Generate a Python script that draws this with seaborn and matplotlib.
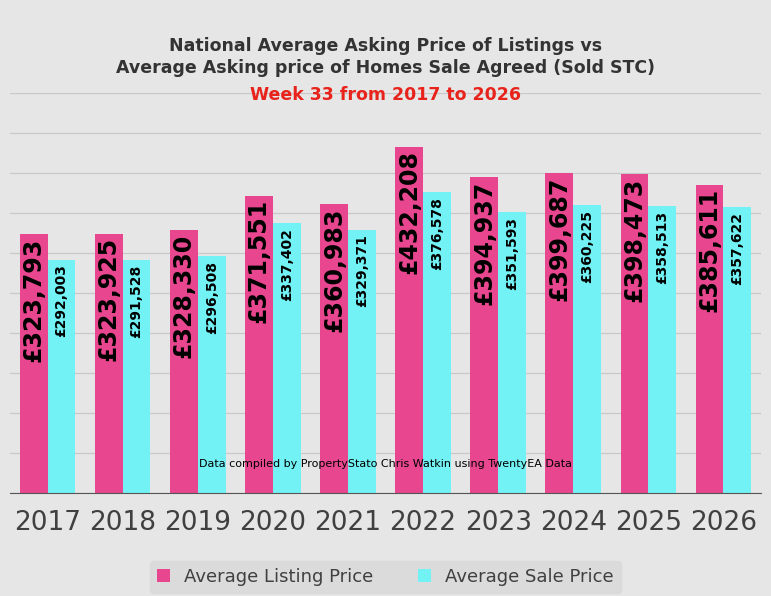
import pandas as pd
import matplotlib.pyplot as plt
import seaborn as sns

# Configuración de estilo
plt.style.use('default')

# Datos
years = ['2017', '2018', '2019', '2020', '2021', '2022', '2023', '2024', '2025', '2026']
listing = [323793, 323925, 328330, 371551, 360983, 432208, 394937, 399687, 398473, 385611]
sale = [292003, 291528, 296508, 337402, 329371, 376578, 351593, 360225, 358513, 357622]

df = pd.DataFrame({
    'Year': years * 2,
    'Price': listing + sale,
    'Type': ['Average Listing Price'] * 10 + ['Average Sale Price'] * 10,
})


def plot_listing_vs_sale(df):
    """Precio medio de anuncios vs precio medio de ventas acordadas."""
    fig = plt.figure(figsize=(7.71, 5.96), dpi=100)
    fig.patch.set_facecolor('#e6e6e6')
    ax = fig.add_axes([0.013, 0.172, 0.974, 0.672])
    ax.set_facecolor('#e6e6e6')

    sns.barplot(data=df, x='Year', y='Price', hue='Type', ax=ax,
                palette=['#e8478f', '#72f2f4'], width=0.74, saturation=1)

    ax.set_ylim(0, 500000)
    ax.set_yticks(range(0, 500001, 50000))
    ax.yaxis.grid(True, color='#c8c8c8', linewidth=0.9)
    ax.set_axisbelow(True)
    ax.tick_params(axis='y', left=False, labelleft=False)
    ax.tick_params(axis='x', length=0, labelsize=19, colors='#404040', pad=12)
    ax.set_xlabel('')
    ax.set_ylabel('')
    for side in ['top', 'right', 'left']:
        ax.spines[side].set_visible(False)
    ax.spines['bottom'].set_color('#555555')

    # Etiquetas dentro de las barras
    for i, c in enumerate(ax.containers):
        for bar in c:
            h = bar.get_height()
            x = bar.get_x() + bar.get_width() / 2
            if i == 0:
                ax.text(x, h - 4000, f"£{h:,.0f}", rotation=90, ha='center', va='top',
                        fontsize=17, fontweight='bold', color='black')
            else:
                ax.text(x, h - 6000, f"£{h:,.0f}", rotation=90, ha='center', va='top',
                        fontsize=10, fontweight='bold', color='black')

    ax.text(0.5, 0.065, 'Data compiled by PropertyStato Chris Watkin using TwentyEA Data',
            transform=ax.transAxes, ha='center', fontsize=8, color='black')

    fig.text(0.5, 0.905, 'National Average Asking Price of Listings vs\n'
             'Average Asking price of Homes Sale Agreed (Sold STC)',
             ha='center', va='center', fontsize=12.5, fontweight='bold', color='#333333',
             linespacing=1.3)
    fig.text(0.5, 0.84, 'Week 33 from 2017 to 2026', ha='center', va='center',
             fontsize=12.5, fontweight='bold', color='#e8231c')

    leg = ax.legend(loc='upper center', bbox_to_anchor=(0.5, -0.145), ncol=2,
                    fontsize=13, frameon=True, handlelength=0.7, handleheight=0.7,
                    columnspacing=2.5)
    leg.get_frame().set_facecolor('#d9d9d9')
    leg.get_frame().set_edgecolor('#d9d9d9')
    for t in leg.get_texts():
        t.set_color('#404040')

    plt.savefig('out.png', dpi=100, facecolor=fig.get_facecolor())
    plt.close()


plot_listing_vs_sale(df)
